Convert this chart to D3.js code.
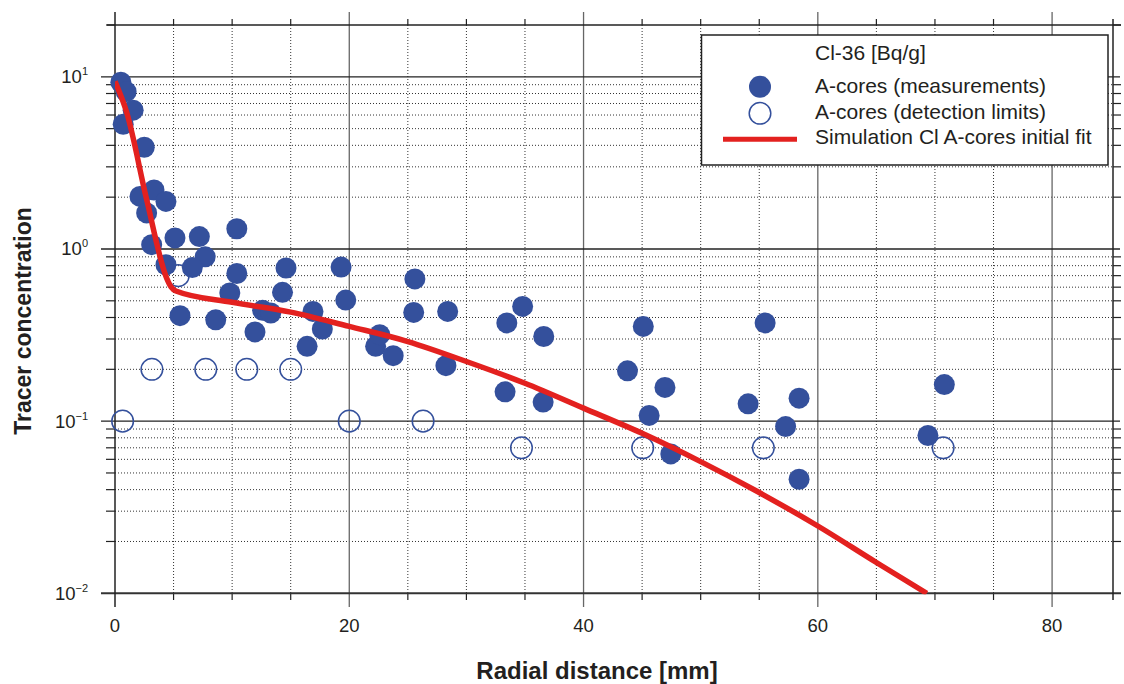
<!DOCTYPE html>
<html><head><meta charset="utf-8">
<script src="https://cdn.jsdelivr.net/npm/d3@7"></script>
<style>
html,body{margin:0;padding:0;background:#fff;}
svg{display:block;font-family:"Liberation Sans",Arial,Helvetica,sans-serif;}
</style></head>
<body><svg id="c" width="1124" height="684"></svg>
<script>
// ---- data ----
const measX = [0.5,0.95,1.55,0.7,2.5,2.13,3.33,4.35,2.7,3.13,5.12,7.2,10.4,4.35,7.7,6.6,10.4,14.6,19.3,9.8,14.3,19.7,5.55,8.6,12.6,13.3,11.95,16.9,17.7,16.4,22.25,22.6,23.75,25.6,25.5,28.4,28.25,33.45,34.8,36.6,33.3,36.55,45.1,43.75,46.95,45.6,47.45,54.05,55.5,57.25,58.4,58.4,69.4,70.8];
const measY = [9.3,8.2,6.4,5.3,3.9,2.02,2.2,1.89,1.62,1.06,1.16,1.18,1.31,0.81,0.9,0.78,0.72,0.775,0.785,0.555,0.56,0.505,0.41,0.388,0.44,0.425,0.33,0.434,0.343,0.272,0.272,0.318,0.24,0.67,0.428,0.434,0.21,0.372,0.464,0.31,0.148,0.129,0.355,0.196,0.157,0.108,0.0645,0.126,0.372,0.093,0.136,0.046,0.0825,0.163];
const limX = [0.65,3.15,5.4,7.75,11.25,15.0,20.0,26.3,34.7,45.05,55.35,70.7];
const limY = [0.1,0.2,0.7,0.2,0.2,0.2,0.1,0.1,0.07,0.07,0.07,0.07];
const simX = [0,1,2.7,4.4,4.8,5.2,10,15,20,25,30,35,40,45,50,55,60,65,69.3];
const simY = [9.4,6.2,1.94,0.68,0.6,0.57,0.49,0.43,0.355,0.29,0.222,0.166,0.119,0.085,0.0582,0.0385,0.0246,0.0151,0.01];
const xTickValues = [0,20,40,60,80];
const xTickLabels = ["0","20","40","60","80"];
const yDecades = [10,1,0.1,0.01];
const yExpLabels = ["1","0","\u22121","\u22122"];
const legendTitle = "Cl-36 [Bq/g]";
const legendLabels = ["A-cores (measurements)","A-cores (detection limits)","Simulation Cl A-cores initial fit"];

// ---- layout ----
const svg = d3.select("#c");
const L = 115, R = 1113, T = 25, B = 593.3;
const x = d3.scaleLinear().domain([0,85.2]).range([L,R]);
const y = d3.scaleLog().domain([0.01,20]).range([B,T]);
const blue = "#34509c", red = "#e3211f", ink = "#231f20";

const yMinor = [];
[0.01,0.1,1,10].forEach(d=>{for(let k=2;k<=9;k++){const v=d*k; if(v<=20) yMinor.push(v);}});
const xMinor = d3.range(5,85,5).filter(v=>v%20!==0);
const xMajor = xTickValues.filter(v=>v>0);

const g = svg.append("g");
g.selectAll(".hmin").data(yMinor.filter(v=>v<20)).join("line")
 .attr("x1",L).attr("x2",R).attr("y1",d=>y(d)).attr("y2",d=>y(d))
 .attr("stroke","#333").attr("stroke-width",1).attr("stroke-dasharray","1,2");
g.selectAll(".vmin").data(xMinor).join("line")
 .attr("x1",d=>x(d)).attr("x2",d=>x(d)).attr("y1",T).attr("y2",B)
 .attr("stroke","#333").attr("stroke-width",1).attr("stroke-dasharray","1,2");
g.selectAll(".vmaj").data(xMajor).join("line")
 .attr("x1",d=>x(d)).attr("x2",d=>x(d)).attr("y1",12).attr("y2",607)
 .attr("stroke","#666").attr("stroke-width",1.3);
g.selectAll(".hmaj").data(yDecades.slice(0,3)).join("line")
 .attr("x1",101).attr("x2",1120).attr("y1",d=>y(d)).attr("y2",d=>y(d))
 .attr("stroke","#222").attr("stroke-width",1.3);
g.selectAll(".lt").data(yMinor).join("line")
 .attr("x1",106).attr("x2",L).attr("y1",d=>y(d)).attr("y2",d=>y(d))
 .attr("stroke","#222").attr("stroke-width",1.2);
g.selectAll(".rt").data(yMinor).join("line")
 .attr("x1",R).attr("x2",1121).attr("y1",d=>y(d)).attr("y2",d=>y(d))
 .attr("stroke","#222").attr("stroke-width",1.2);
g.selectAll(".tt").data(xMinor).join("line")
 .attr("x1",d=>x(d)).attr("x2",d=>x(d)).attr("y1",19).attr("y2",T)
 .attr("stroke","#222").attr("stroke-width",1.2);
g.selectAll(".bt").data(xMinor).join("line")
 .attr("x1",d=>x(d)).attr("x2",d=>x(d)).attr("y1",B).attr("y2",600)
 .attr("stroke","#222").attr("stroke-width",1.2);
g.append("line").attr("x1",107).attr("x2",1121).attr("y1",T).attr("y2",T).attr("stroke","#222").attr("stroke-width",1.5);
g.append("line").attr("x1",101).attr("x2",1121).attr("y1",B).attr("y2",B).attr("stroke","#333").attr("stroke-width",2);
g.append("line").attr("x1",L).attr("x2",L).attr("y1",12).attr("y2",607).attr("stroke","#222").attr("stroke-width",1.5);
g.append("line").attr("x1",R).attr("x2",R).attr("y1",19).attr("y2",600).attr("stroke","#222").attr("stroke-width",1.5);

svg.selectAll(".xl").data(xTickValues).join("text")
 .attr("x",d=>x(d)).attr("y",632).attr("text-anchor","middle")
 .attr("font-size",18.5).attr("fill",ink).text((d,i)=>xTickLabels[i]);
yDecades.forEach((v,i)=>{
  const t = svg.append("text").attr("x",88).attr("y",y(v)+6.5).attr("text-anchor","end")
   .attr("font-size",18.5).attr("fill",ink);
  t.append("tspan").text("10");
  t.append("tspan").attr("font-size",11).attr("dy",-8).text(yExpLabels[i]);
});
svg.append("text").attr("x",597).attr("y",679).attr("text-anchor","middle")
 .attr("font-size",24).attr("font-weight","bold").attr("fill",ink).text("Radial distance [mm]");
svg.append("text").attr("transform","translate(31,321) rotate(-90)").attr("text-anchor","middle")
 .attr("font-size",23).attr("font-weight","bold").attr("fill",ink).text("Tracer concentration");

svg.append("clipPath").attr("id","clip").append("rect").attr("x",L-12).attr("y",T-12).attr("width",R-L+24).attr("height",B-T+12);
const plot = svg.append("g").attr("clip-path","url(#clip)");

plot.selectAll(".lim").data(limX).join("circle")
 .attr("cx",d=>x(d)).attr("cy",(d,i)=>y(limY[i])).attr("r",10.8)
 .attr("fill","none").attr("stroke",blue).attr("stroke-width",1.5);
plot.selectAll(".meas").data(measX).join("circle")
 .attr("cx",d=>x(d)).attr("cy",(d,i)=>y(measY[i])).attr("r",10.5)
 .attr("fill",blue);
const sim = simX.map((d,i)=>[d,simY[i]]);
svg.append("clipPath").attr("id","clip2").append("rect").attr("x",L).attr("y",T).attr("width",R-L).attr("height",B-T+1);
svg.append("path").datum(sim).attr("clip-path","url(#clip2)")
 .attr("d",d3.line().x(d=>x(d[0])).y(d=>y(d[1])).curve(d3.curveMonotoneX))
 .attr("fill","none").attr("stroke",red).attr("stroke-width",5.5).attr("stroke-linejoin","round");

const lg = svg.append("g");
lg.append("rect").attr("x",701.5).attr("y",35).attr("width",406.5).attr("height",130)
 .attr("fill","#fff").attr("stroke","#222").attr("stroke-width",1.5);
lg.append("text").attr("x",815).attr("y",59.5).attr("font-size",21).attr("fill",ink).text(legendTitle);
const rows=[92.7,119.3,144.3];
legendLabels.forEach((s,i)=>{
  lg.append("text").attr("x",815).attr("y",rows[i]).attr("font-size",21).attr("fill",ink).text(s);
});
lg.append("circle").attr("cx",760).attr("cy",86.7).attr("r",11).attr("fill",blue);
lg.append("circle").attr("cx",760).attr("cy",113.3).attr("r",10.8).attr("fill","none").attr("stroke",blue).attr("stroke-width",1.5);
lg.append("line").attr("x1",723).attr("x2",797).attr("y1",139.3).attr("y2",139.3).attr("stroke",red).attr("stroke-width",5);
</script></body></html>
